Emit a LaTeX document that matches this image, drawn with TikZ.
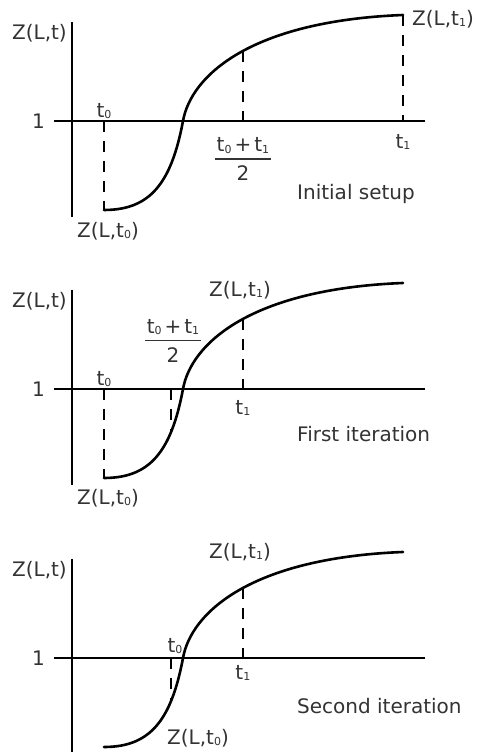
\documentclass[tikz,border=0pt]{standalone}
\usepackage{fontspec}
\setmainfont{DejaVu Sans}
\usetikzlibrary{positioning, calc}
\definecolor{ink}{HTML}{333333}
\newcommand{\lowidx}[1]{\raisebox{-1.5pt}{\fontsize{11}{11}\selectfont#1}}
\newcommand{\halfsum}{{\setlength{\arrayrulewidth}{1.7pt}%
  \begin{tabular}{@{}c@{}}\kern2pt t\lowidx{0}\kern3pt+\kern3pt t\lowidx{1}\kern2pt\\[-1pt]\hline\rule{0pt}{21pt}2\end{tabular}}}

\begin{document}
\begin{tikzpicture}[
  x=1pt, y=1pt,
  every node/.style={font=\fontsize{20}{24}\selectfont, text=ink, inner sep=2pt},
  axis/.style={line width=2.6pt},
  zcurve/.style={line width=2.6pt, line cap=round},
  guide/.style={line width=1.8pt, dash pattern=on 11pt off 9pt}
]
  \useasboundingbox (0,0) rectangle (479,752);

  \foreach \p/\y in {a/631, b/363, c/94}{
    \begin{scope}[shift={(72,\y)}]
      \coordinate (\p-o)  at (0,0);
      \coordinate (\p-lo) at (32,-89);
      \coordinate (\p-x0) at (111,0);
      \coordinate (\p-hi) at (331,106);
      \draw[axis] (0,99) -- (0,-96);
      \draw[axis] (-18,0) coordinate (\p-xl) -- (353,0);
      \node[anchor=east] (\p-one) at ($(\p-xl)+(-7,0)$) {1};
      \node[anchor=east] (\p-zlab) at (-3,88) {Z(L,t)};
      \draw[zcurve] (\p-lo) .. controls (77,-89) and (99,-64) .. coordinate[pos=0.74] (\p-q) (\p-x0)
                            .. controls (119,45) and (178,100) .. coordinate[pos=0.52] (\p-m) (\p-hi);
    \end{scope}
  }

  \draw[guide] (a-lo |- a-o) coordinate (a-t0ax) -- (a-lo);
  \draw[guide] (a-m) -- (a-m |- a-o) coordinate (a-max);
  \draw[guide] (a-hi) -- (a-hi |- a-o) coordinate (a-hiax);
  \node[above=0pt of a-t0ax] (a-t0) {t\lowidx{0}};
  \node[below=10pt of a-lo, xshift=4pt] (a-zt0) {Z(L,t\lowidx{0})};
  \node[below=12pt of a-max] (a-half) {\halfsum};
  \node[below=11pt of a-hiax] (a-t1) {t\lowidx{1}};
  \node[right=7pt of a-hi, yshift=-4pt] (a-zt1) {Z(L,t\lowidx{1})};
  \node[anchor=west] (a-title) at ($(a-o)+(223,-73)$) {Initial setup};

  \draw[guide] (b-lo |- b-o) coordinate (b-t0ax) -- (b-lo);
  \draw[guide] (b-q |- b-o) coordinate (b-qax) -- (b-q);
  \draw[guide] (b-m) -- (b-m |- b-o) coordinate (b-max);
  \node[above=0pt of b-t0ax] (b-t0) {t\lowidx{0}};
  \node[below=9pt of b-lo, xshift=4pt] (b-zt0) {Z(L,t\lowidx{0})};
  \node (b-half) at ($(b-o)+(101,46)$) {\halfsum};
  \node[below=9pt of b-max] (b-t1) {t\lowidx{1}};
  \node (b-zt1) at ($(b-o)+(168,99)$) {Z(L,t\lowidx{1})};
  \node[anchor=west] (b-title) at ($(b-o)+(223,-45)$) {First iteration};

  \draw[guide] (c-q |- c-o) coordinate (c-qax) -- (c-q);
  \draw[guide] (c-m) -- (c-m |- c-o) coordinate (c-max);
  \node (c-t0) at ($(c-o)+(103,12)$) {t\lowidx{0}};
  \node (c-zt0) at ($(c-o)+(126,-80)$) {Z(L,t\lowidx{0})};
  \node[below=5pt of c-max] (c-t1) {t\lowidx{1}};
  \node (c-zt1) at ($(c-o)+(168,106)$) {Z(L,t\lowidx{1})};
  \node[anchor=west] (c-title) at ($(c-o)+(223,-48)$) {Second iteration};
\end{tikzpicture}
\end{document}
